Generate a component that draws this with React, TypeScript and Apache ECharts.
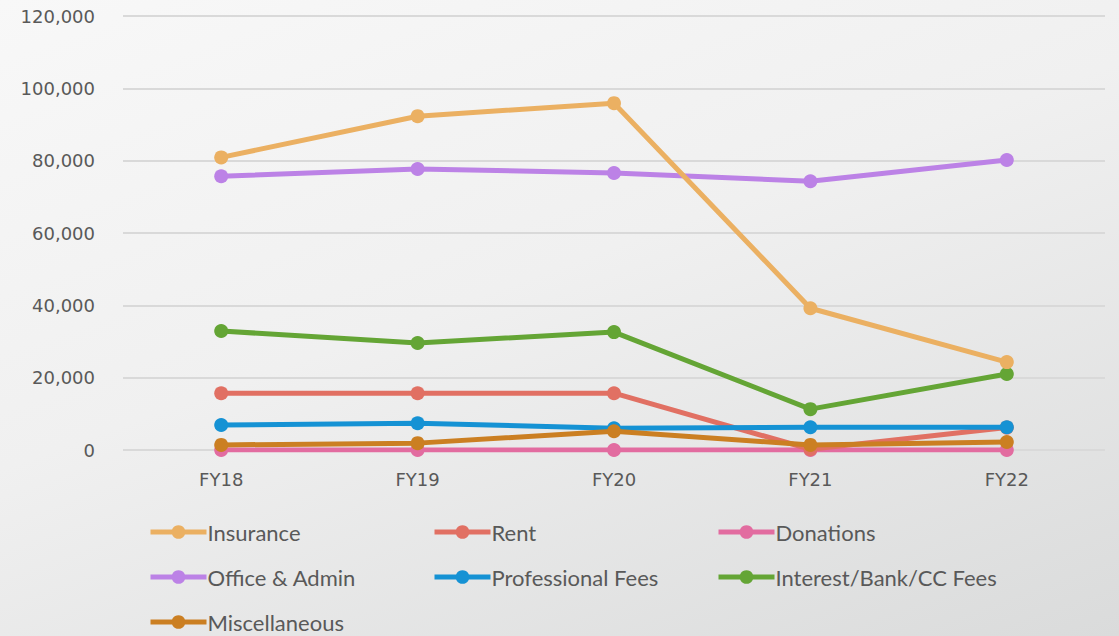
import React, { useEffect, useRef } from "react";
import * as echarts from "echarts";

const categories = ["FY18", "FY19", "FY20", "FY21", "FY22"];
const insurance = [80900, 92300, 95900, 39200, 24300];
const rent = [15700, 15700, 15700, 200, 6200];
const donations = [0, 0, 0, 0, 0];
const officeAdmin = [75700, 77700, 76600, 74300, 80200];
const professionalFees = [6900, 7400, 6000, 6300, 6300];
const interestBank = [32900, 29600, 32600, 11300, 21000];
const miscellaneous = [1400, 1900, 5200, 1400, 2200];

const seriesDefs = [
  { name: "Insurance", data: insurance, color: "#EBB062" },
  { name: "Rent", data: rent, color: "#E17063" },
  { name: "Donations", data: donations, color: "#E26CA0" },
  { name: "Office & Admin", data: officeAdmin, color: "#BC82E6" },
  { name: "Professional Fees", data: professionalFees, color: "#1592D4" },
  { name: "Interest/Bank/CC Fees", data: interestBank, color: "#64A535" },
  { name: "Miscellaneous", data: miscellaneous, color: "#CB7F22" },
];

const legendCols = [148, 432, 716];
const legendRows = [533, 578, 623];

export default function App() {
  const ref = useRef<HTMLDivElement>(null);
  useEffect(() => {
    document.body.style.margin = "0";
    const chart = echarts.init(ref.current!, null, { renderer: "svg" });
    const order = ["Donations", "Rent", "Professional Fees", "Miscellaneous", "Interest/Bank/CC Fees", "Office & Admin", "Insurance"];
    chart.setOption({
      animation: false,
      backgroundColor: "transparent",
      grid: { left: 123, right: 14, top: 16, bottom: 186, containLabel: false },
      legend: seriesDefs.map((s, i) => ({
        left: legendCols[i % 3],
        top: legendRows[Math.floor(i / 3)] - 12,
        itemWidth: 56,
        itemHeight: 17,
        itemGap: 0,
        padding: 0,
        data: [s.name],
        textStyle: {
          fontFamily: "Lato",
          fontSize: 22,
          color: "#595959",
          padding: [0, 0, 0, -4],
        },
        lineStyle: { width: 5 },
      })),
      xAxis: {
        type: "category",
        data: categories,
        axisLine: { show: false },
        axisTick: { show: false },
        axisLabel: { fontFamily: "DejaVu Sans", fontSize: 18, color: "#595959", margin: 20 },
      },
      yAxis: {
        type: "value",
        min: 0,
        max: 120000,
        interval: 20000,
        axisLine: { show: false },
        axisTick: { show: false },
        splitLine: { lineStyle: { color: "#d9d9d9", width: 2 } },
        axisLabel: {
          fontFamily: "DejaVu Sans",
          fontSize: 18,
          color: "#595959",
          margin: 28,
          formatter: (v: number) => v.toLocaleString("en-US"),
        },
      },
      series: seriesDefs.map((s) => ({
        name: s.name,
        type: "line",
        data: s.data,
        z: 2 + order.indexOf(s.name),
        symbol: "circle",
        symbolSize: 14,
        showSymbol: true,
        color: s.color,
        lineStyle: { width: 5, color: s.color },
        itemStyle: { color: s.color },
      })),
    });
    return () => chart.dispose();
  }, []);
  return (
    <div
      style={{
        width: 1119,
        height: 636,
        background: "linear-gradient(160deg, #f8f8f8 0%, #f0f0f0 45%, #dadbdb 100%)",
      }}
    >
      <div ref={ref} style={{ width: 1119, height: 636 }} />
    </div>
  );
}
